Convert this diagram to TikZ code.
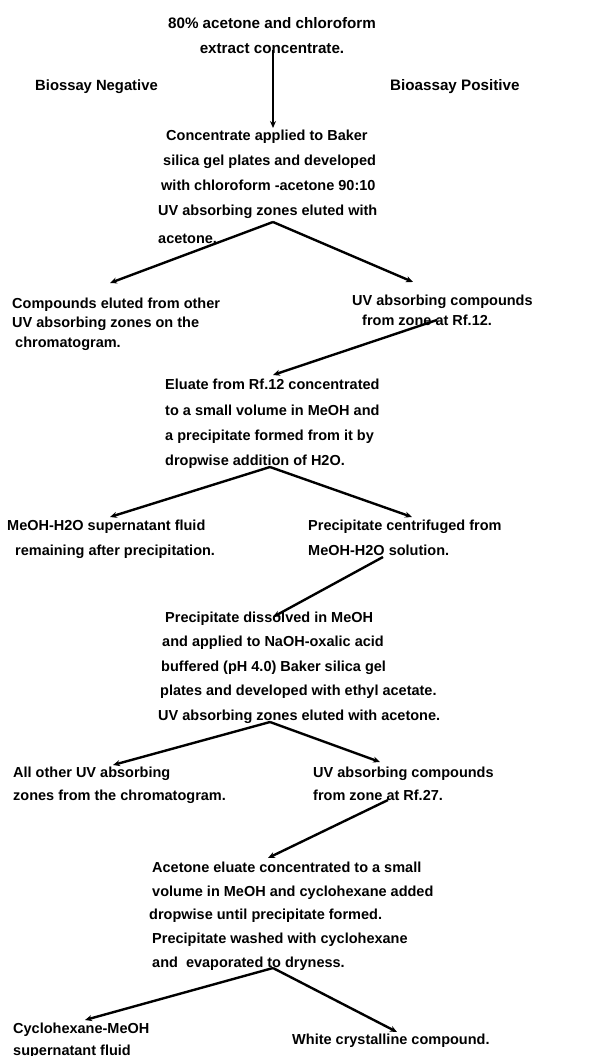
\documentclass[tikz,border=0pt]{standalone}
\usepackage{fontspec}
\setmainfont{Liberation Sans}
\usetikzlibrary{arrows.meta}
\begin{document}
\begin{tikzpicture}[x=1pt,y=-1pt,
  txt/.style={inner sep=0pt, anchor=north west, align=left,
    font=\bfseries\fontsize{14.5}{#1}\selectfont},
  txt/.default=25,
  arr/.style={line width=2.4pt, -{Stealth[length=7pt,width=6pt]}}]
\useasboundingbox[fill=white] (0,0) rectangle (615,1056);

% text blocks
\node[txt, anchor=north, align=center, font=\bfseries\fontsize{15.2}{25}\selectfont] (b1) at (272,17.5)
  {80\% acetone and chloroform\\extract concentrate.};
\node[txt, font=\bfseries\fontsize{14.8}{25}\selectfont] (neg) at (35,79.5) {Biossay Negative};
\node[txt, font=\bfseries\fontsize{15.2}{25}\selectfont] (pos) at (390,79.5) {Bioassay Positive};
\node[txt=25] (b2) at (158,129.5)
  {\hspace*{8pt}Concentrate applied to Baker\\
   \hspace*{5pt}silica gel plates and developed\\
   \hspace*{3pt}with chloroform -acetone 90:10\\
   UV absorbing zones eluted with\\[3pt]
   acetone.};
\node[txt=19.5] (c1) at (12,297.5)
  {Compounds eluted from other\\UV absorbing zones on the\\\hspace*{3pt}chromatogram.};
\node[txt=20] (c2) at (352,294.5)
  {UV absorbing compounds\\\hspace*{10pt}from zone at Rf.12.};
\node[txt=25.3] (b3) at (165,379)
  {Eluate from Rf.12 concentrated\\to a small volume in MeOH and\\a precipitate formed from it by\\dropwise addition of H2O.};
\node[txt=25] (d1) at (7,519.5)
  {MeOH-H2O supernatant fluid\\\hspace*{8pt}remaining after precipitation.};
\node[txt=25] (d2) at (308,519.5)
  {Precipitate centrifuged from\\MeOH-H2O solution.};
\node[txt=24.5] (b4) at (158,611.5)
  {\hspace*{7pt}Precipitate dissolved in MeOH\\
   \hspace*{4pt}and applied to NaOH-oxalic acid\\
   \hspace*{3pt}buffered (pH 4.0) Baker silica gel\\
   \hspace*{2pt}plates and developed with ethyl acetate.\\
   UV absorbing zones eluted with acetone.};
\node[txt=23] (e1) at (13,766.5)
  {All other UV absorbing\\zones from the chromatogram.};
\node[txt=23] (e2) at (313,766.5)
  {UV absorbing compounds\\from zone at Rf.27.};
\node[txt=23.8] (b5) at (149,861.5)
  {\hspace*{3pt}Acetone eluate concentrated to a small\\
   \hspace*{3pt}volume in MeOH and cyclohexane added\\
   dropwise until precipitate formed.\\
   \hspace*{3pt}Precipitate washed with cyclohexane\\
   \hspace*{3pt}and\ \ evaporated to dryness.};
\node[txt=22] (g1) at (13,1022.5)
  {Cyclohexane-MeOH\\supernatant fluid};
\node[txt] (g2) at (292,1033.5) {White crystalline compound.};

% connector points
\coordinate (s1) at (273,50);
\coordinate (t1) at (273,128);
\coordinate (f1) at (273,222);
\coordinate (f1l) at (110,283);
\coordinate (f1r) at (413,282);
\coordinate (s2) at (437,320);
\coordinate (t2) at (273,375);
\coordinate (f2) at (270,467);
\coordinate (f2l) at (110,517);
\coordinate (f2r) at (412,517);
\coordinate (s3) at (383,557);
\coordinate (t3) at (273,617);
\coordinate (f3) at (270,722);
\coordinate (f3l) at (113,765);
\coordinate (f3r) at (380,762);
\coordinate (s4) at (388,800);
\coordinate (t4) at (268,858);
\coordinate (f4) at (273,968);
\coordinate (f4l) at (85,1020);
\coordinate (f4r) at (397,1032);

\draw[arr, line width=1.9pt] (s1) -- (t1);
\draw[arr] (f1) -- (f1l);
\draw[arr] (f1) -- (f1r);
\draw[arr] (s2) -- (t2);
\draw[arr] (f2) -- (f2l);
\draw[arr] (f2) -- (f2r);
\draw[arr] (s3) -- (t3);
\draw[arr] (f3) -- (f3l);
\draw[arr] (f3) -- (f3r);
\draw[arr] (s4) -- (t4);
\draw[arr] (f4) -- (f4l);
\draw[arr] (f4) -- (f4r);
\end{tikzpicture}
\end{document}
